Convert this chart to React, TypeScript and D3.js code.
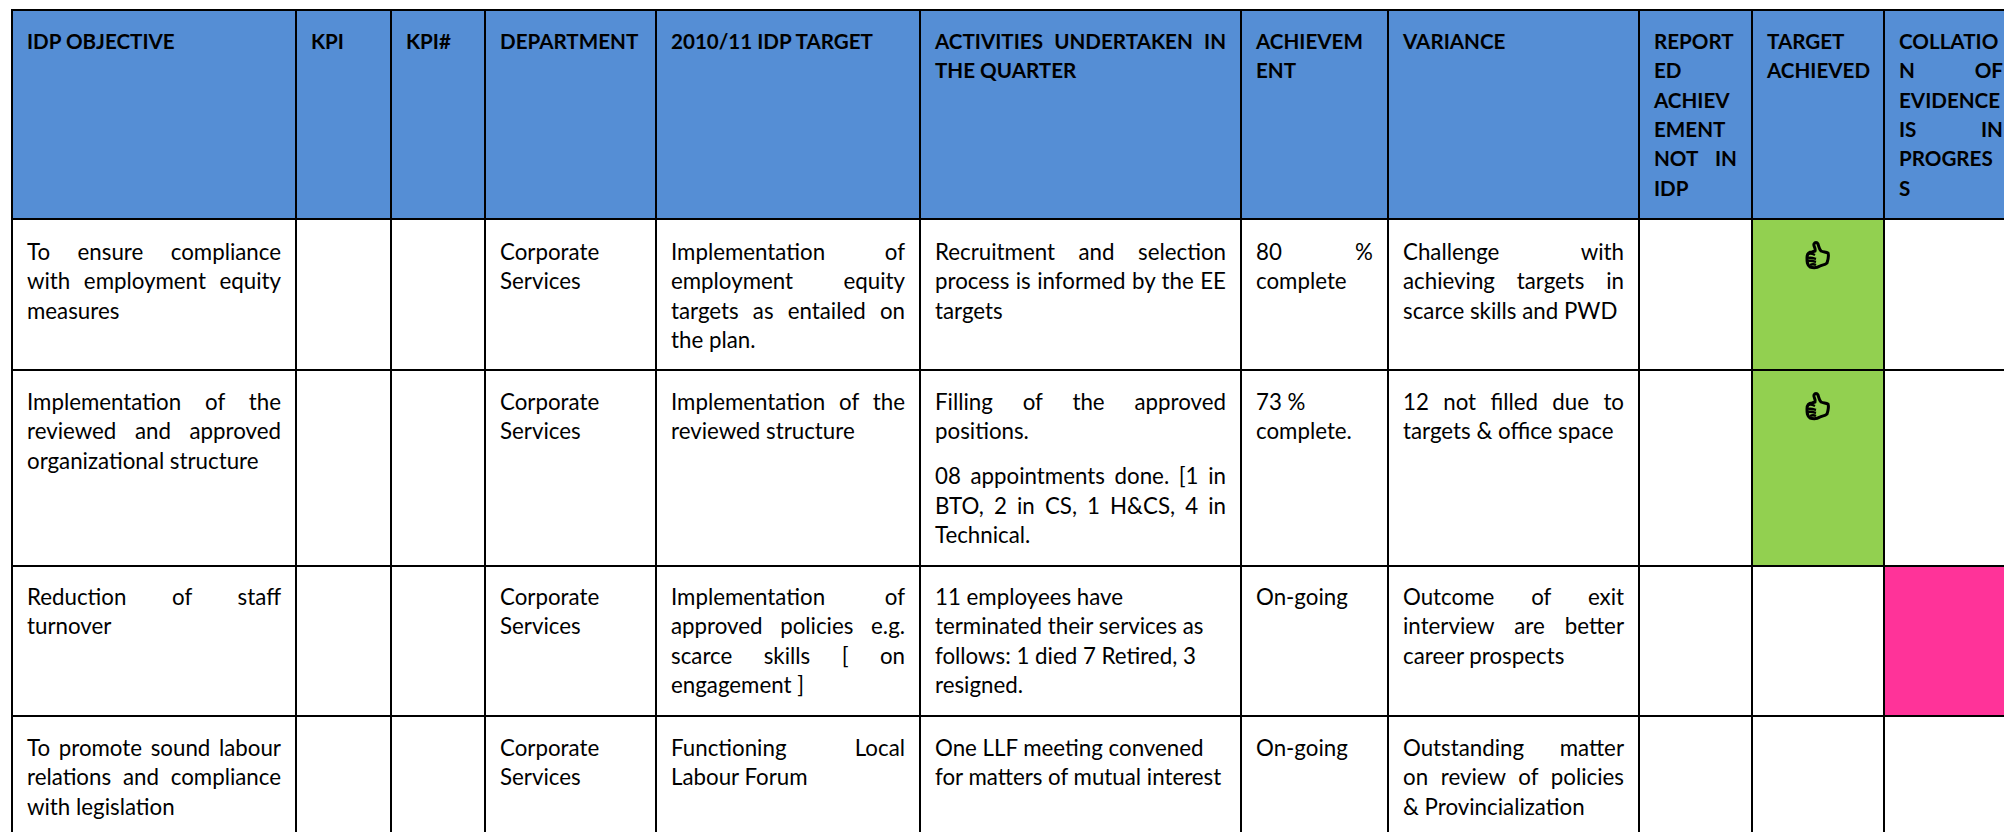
// App.tsx - IDP quarterly report table, drawn with d3

import React, {useEffect, useRef} from 'react';
import * as d3 from 'd3';

// table text, line by line as the source document breaks it ("" is a paragraph gap)
const headers = [
    ['IDP OBJECTIVE'],
    ['KPI'],
    ['KPI#'],
    ['DEPARTMENT'],
    ['2010/11 IDP TARGET'],
    ['ACTIVITIES UNDERTAKEN IN', 'THE QUARTER'],
    ['ACHIEVEM', 'ENT'],
    ['VARIANCE'],
    ['REPORT', 'ED', 'ACHIEV', 'EMENT', 'NOT IN', 'IDP'],
    ['TARGET', 'ACHIEVED'],
    ['COLLATIO', 'N OF', 'EVIDENCE', 'IS IN', 'PROGRES', 'S'],
];
const objectives = [
    ['To ensure compliance', 'with employment equity', 'measures'],
    ['Implementation of the', 'reviewed and approved', 'organizational structure'],
    ['Reduction of staff', 'turnover'],
    ['To promote sound labour', 'relations and compliance', 'with legislation'],
];
const departments = [
    ['Corporate', 'Services'],
    ['Corporate', 'Services'],
    ['Corporate', 'Services'],
    ['Corporate', 'Services'],
];
const targets = [
    ['Implementation of', 'employment equity', 'targets as entailed on', 'the plan.'],
    ['Implementation of the', 'reviewed structure'],
    ['Implementation of', 'approved policies e.g.', 'scarce skills [ on', 'engagement ]'],
    ['Functioning Local', 'Labour Forum'],
];
const activities = [
    ['Recruitment and selection', 'process is informed by the EE', 'targets'],
    ['Filling of the approved', 'positions.', '', '08 appointments done. [1 in', 'BTO, 2 in CS, 1 H&CS, 4 in', 'Technical.'],
    ['11 employees have', 'terminated their services as', 'follows: 1 died 7 Retired, 3', 'resigned.'],
    ['One LLF meeting convened', 'for matters of mutual interest'],
];
const achievements = [
    ['80 %', 'complete'],
    ['73 %', 'complete.'],
    ['On-going'],
    ['On-going'],
];
const variances = [
    ['Challenge with', 'achieving targets in', 'scarce skills and PWD'],
    ['12 not filled due to', 'targets & office space'],
    ['Outcome of exit', 'interview are better', 'career prospects'],
    ['Outstanding matter', 'on review of policies', '& Provincialization'],
];
const targetAchieved = [true, true, false, false];
const evidenceInProgress = [false, false, true, false];
// cells that are left aligned in the source (row-col), the rest is justified
const leftAligned = ['2-6', '3-5', '4-5'];

// layout
const colEdges = [12, 296, 391, 485, 656, 920, 1241, 1388, 1639, 1752, 1884, 2018];
const rowEdges = [10, 219, 370, 566, 716, 866];
const rowBaselines = [39, 41, 40, 39, 40];
const padX = 15;
const lineHeight = 29.3;
const paragraphGap = 15.6;
const fontFamily = 'Lato, "Open Sans", sans-serif';
const bodySize = 22.3;
const headerSize = 20.6;
const colors = {header: '#558ED5', achieved: '#92D050', progress: '#FF3399'};

const colKeys = d3.range(colEdges.length);
const rowKeys = d3.range(rowEdges.length);
const xScale = d3.scaleOrdinal<number, number>(colKeys, colEdges);
const yScale = d3.scaleOrdinal<number, number>(rowKeys, rowEdges);

const thumbOutline = 'M-3 -5 C-2 -8 -5 -10 -4 -12 C-3 -14 -1 -14 0 -12 C1 -9 1 -7 3 -5 C5 -4 8 -4 10 -3 C11 0 10 4 9 7 C7 9 4 9 2 10 C-1 12 -5 12 -8 11 C-11 9 -11 6 -11 2 C-11 -2 -9 -4 -6 -4 Z';
const thumbFingers = 'M-10 -2 C-7 -3 -5 -2 -3 -1 M-10 2 C-7 1 -5 2 -2 3 M-10 5 C-7 4 -5 5 -2 6 M-8 9 C-6 8 -4 8 -2 9';

export default function App(){
    const svgRef = useRef<SVGSVGElement>(null);

    useEffect(() => {
        const svg = d3.select(svgRef.current);
        svg.selectAll('*').remove();

        const rows = objectives.map((_, i) => [
            objectives[i], [], [], departments[i], targets[i], activities[i], achievements[i], variances[i], [], [], [],
        ]);

        // fills
        svg.append('rect')
            .attr('x', xScale(0)).attr('y', yScale(0))
            .attr('width', xScale(11) - xScale(0)).attr('height', yScale(1) - yScale(0))
            .attr('fill', colors.header);
        const fillCell = (flags: boolean[], col: number, color: string) => {
            svg.append('g').selectAll('rect')
                .data(flags.map((flag, i) => ({flag, i})).filter((d) => d.flag))
                .join('rect')
                .attr('x', xScale(col)).attr('y', (d) => yScale(d.i + 1))
                .attr('width', xScale(col + 1) - xScale(col))
                .attr('height', (d) => yScale(d.i + 2) - yScale(d.i + 1))
                .attr('fill', color);
        };
        fillCell(targetAchieved, 9, colors.achieved);
        fillCell(evidenceInProgress, 10, colors.progress);

        // grid
        const grid = svg.append('g').attr('stroke', '#000').attr('stroke-width', 2);
        grid.selectAll('.v').data(colKeys.slice(0, -1)).join('line')
            .attr('class', 'v')
            .attr('x1', (d) => xScale(d)).attr('x2', (d) => xScale(d))
            .attr('y1', yScale(0) - 1).attr('y2', 832);
        grid.selectAll('.h').data(rowKeys.slice(0, -1)).join('line')
            .attr('class', 'h')
            .attr('y1', (d) => yScale(d)).attr('y2', (d) => yScale(d))
            .attr('x1', xScale(0) - 1).attr('x2', 2004);

        // one cell of text, justified by word spacing
        const drawCell = (lines: string[], col: number, row: number, weight: number, size: number, justify: boolean) => {
            const width = xScale(col + 1) - xScale(col) - 2 * padX;
            let y = yScale(row) + rowBaselines[row];
            lines.forEach((line, i) => {
                if (line === '') { y += paragraphGap; return; }
                const text = svg.append('text')
                    .attr('x', xScale(col) + padX).attr('y', y)
                    .attr('font-family', fontFamily).attr('font-size', size)
                    .attr('font-weight', weight).attr('fill', '#000')
                    .text(line);
                const gaps = line.split(' ').length - 1;
                const lastInParagraph = i === lines.length - 1 || lines[i + 1] === '';
                if (justify && gaps > 0 && !lastInParagraph) {
                    const natural = (text.node() as SVGTextElement).getComputedTextLength();
                    text.attr('word-spacing', (width - natural) / gaps);
                }
                y += lineHeight;
            });
        };
        headers.forEach((lines, col) => drawCell(lines, col, 0, 700, headerSize, true));
        rows.forEach((cells, i) => {
            cells.forEach((lines, col) => drawCell(lines, col, i + 1, 400, bodySize, !leftAligned.includes(`${i + 1}-${col}`)));
        });

        // thumbs up
        const thumbs = svg.append('g').selectAll('g')
            .data(targetAchieved.map((flag, i) => ({flag, i})).filter((d) => d.flag))
            .join('g')
            .attr('transform', (d) => `translate(${(xScale(9) + xScale(10)) / 2},${yScale(d.i + 1) + 37})`)
            .attr('fill', 'none').attr('stroke', '#000');
        thumbs.append('path').attr('d', thumbOutline).attr('stroke-width', 3);
        thumbs.append('path').attr('d', thumbFingers).attr('stroke-width', 2.4);
    }, []);

    return (
        <svg ref={svgRef} width={2004} height={832}
            style={{position: 'absolute', left: 0, top: 0, display: 'block', background: '#fff'}} />
    );
}
